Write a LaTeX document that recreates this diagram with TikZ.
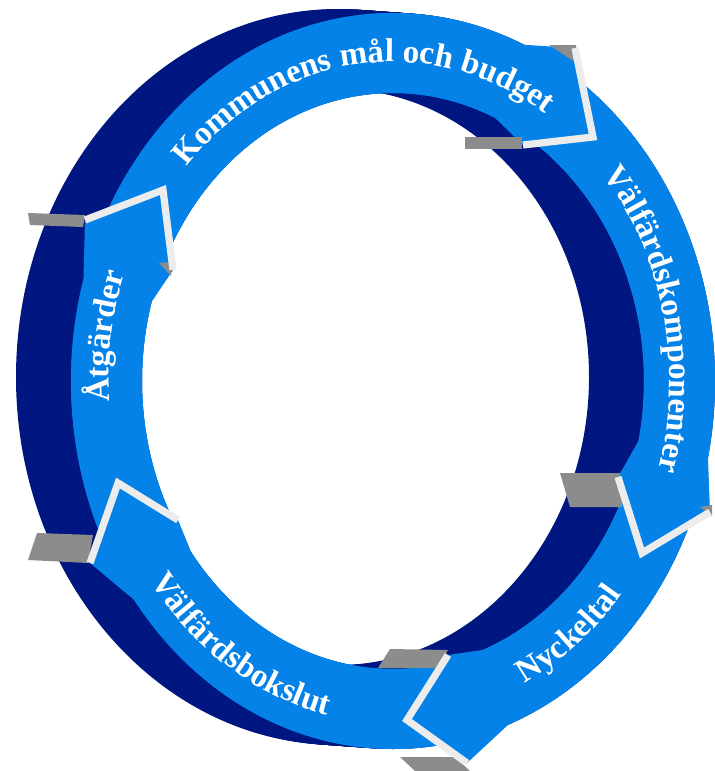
\documentclass[tikz,border=0pt]{standalone}
\usepackage{fontspec}
\setmainfont{Liberation Serif}
\usetikzlibrary{decorations.text}
\definecolor{ringblue}{RGB}{4,130,232}
\definecolor{ringnavy}{RGB}{0,22,128}
\definecolor{slabgray}{RGB}{140,140,140}
\definecolor{gapwhite}{RGB}{236,236,236}
\newcommand{\labelfont}{\fontsize{16.5}{18}\selectfont\bfseries}

\begin{document}
\begin{tikzpicture}[
	  x=0.5pt, y=-0.5pt,
	  ringface/.style={fill=ringblue},
	  ringside/.style={fill=ringnavy, even odd rule},
	  slab/.style={fill=slabgray},
	  gapline/.style={
	  	draw=gapwhite,
	  	line width=3.6pt,
	  	line join=miter
	  },
	  labeltext/.style={
	  	decorate,
	  	decoration={text along path, text align=center, text color=white}
	  },
	  every plot/.style={samples=50}]
	\useasboundingbox (0,0) rectangle (715,771);

	% Back of the ring
	\foreach \s in {0,...,24}
		\fill[ringside, shift={({-55*\s/24},{-4*\s/24})}]
			(393,381) ellipse [x radius=322, y radius=368]
			(393,381) ellipse [x radius=251, y radius=288];

	% Front of the ring
	\fill[ringface, even odd rule]
		(393,381) ellipse [x radius=322, y radius=368]
		(393,381) ellipse [x radius=251, y radius=288];

	% Arrow tips: outer barb, point, inner barb
	\coordinate (p1) at (575,48);  \coordinate (v1) at (593,137); \coordinate (q1) at (523,145);
	\coordinate (p2) at (710,512); \coordinate (v2) at (642,553); \coordinate (q2) at (618,477);
	\coordinate (p3) at (467,763); \coordinate (v3) at (407,720); \coordinate (q3) at (448,655);
	\coordinate (p4) at (90,563);  \coordinate (v4) at (118,483); \coordinate (q4) at (178,520);
	\coordinate (p5) at (85,220);  \coordinate (v5) at (163,190); \coordinate (q5) at (173,270);

	% Arrows
	\fill[ringface] (p5) -- (v5) -- (q5)
		-- plot[domain=156:66] ({393+251*cos(\x)},{381-288*sin(\x)})
		-- (q1) -- (v1) -- (p1)
		-- plot[domain=66:156] ({393+322*cos(\x)},{381-368*sin(\x)}) -- cycle;
	\fill[ringface] (p1) -- (v1) -- (q1)
		-- plot[domain=58:-12] ({393+251*cos(\x)},{381-288*sin(\x)})
		-- (q2) -- (v2) -- (p2)
		-- plot[domain=-12:58] ({393+322*cos(\x)},{381-368*sin(\x)}) -- cycle;
	\fill[ringface] (p2) -- (v2) -- (q2)
		-- plot[domain=-20:-69] ({393+251*cos(\x)},{381-288*sin(\x)})
		-- (q3) -- (v3) -- (p3)
		-- plot[domain=-69:-20] ({393+322*cos(\x)},{381-368*sin(\x)}) -- cycle;
	\fill[ringface] (p3) -- (v3) -- (q3)
		-- plot[domain=283:216.5] ({393+251*cos(\x)},{381-288*sin(\x)})
		-- (q4) -- (v4) -- (p4)
		-- plot[domain=216.5:283] ({393+322*cos(\x)},{381-368*sin(\x)}) -- cycle;
	\fill[ringface] (p4) -- (v4) -- (q4)
		-- plot[domain=208.5:164] ({393+251*cos(\x)},{381-288*sin(\x)})
		-- (q5) -- (v5) -- (p5)
		-- plot[domain=164:208.5] ({393+322*cos(\x)},{381-368*sin(\x)}) -- cycle;

	% Sides of the tips
	\fill[slab] (549,45) -- (576,45) -- (578,64) -- cycle;
	\fill[slab] (465,137) -- (522,137) -- (522,149) -- (465,149) -- cycle;
	\fill[slab] (560,473) -- (620,473) -- (622,507) -- (570,507) -- cycle;
	\fill[slab] (700,507) -- (712,505) -- (712,516) -- cycle;
	\fill[slab] (390,649) -- (448,650) -- (438,668) -- (378,668) -- cycle;
	\fill[slab] (400,757) -- (455,757) -- (470,771) -- (415,771) -- cycle;
	\fill[slab] (37,533) -- (93,535) -- (88,563) -- (28,560) -- cycle;
	\fill[slab] (28,213) -- (85,215) -- (83,227) -- (30,225) -- cycle;
	\fill[slab] (159,263) -- (171,262) -- (171,276) -- cycle;

	% Gaps
	\draw[gapline] (p1) -- (v1) -- (q1);
	\draw[gapline] (p2) -- (v2) -- (q2);
	\draw[gapline] (p3) -- (v3) -- (q3);
	\draw[gapline] (p4) -- (v4) -- (q4);
	\draw[gapline] (p5) -- (v5) -- (q5);

	% Labels
	\path[labeltext, decoration={text={|\labelfont|Kommunens mål och budget}}]
		plot[domain=157:37] ({393+278.7*cos(\x)},{381-319.2*sin(\x)});
	\path[labeltext, decoration={text={|\labelfont|Välfärdskomponenter}}]
		plot[domain=73:-47] ({393+276.6*cos(\x)},{381-316.8*sin(\x)});
	\path[labeltext, decoration={text={|\labelfont|Nyckeltal}}]
		plot[domain=-80:-24] ({393+295*cos(\x)},{381-337.6*sin(\x)});
	\path[labeltext, decoration={text={|\labelfont|Välfärdsbokslut}}]
		plot[domain=207:267] ({393+299.3*cos(\x)},{381-342.4*sin(\x)});
	\path[labeltext, decoration={text={|\labelfont|Åtgärder}}]
		plot[domain=202:142] ({393+284.4*cos(\x)},{381-325.6*sin(\x)});
\end{tikzpicture}
\end{document}
